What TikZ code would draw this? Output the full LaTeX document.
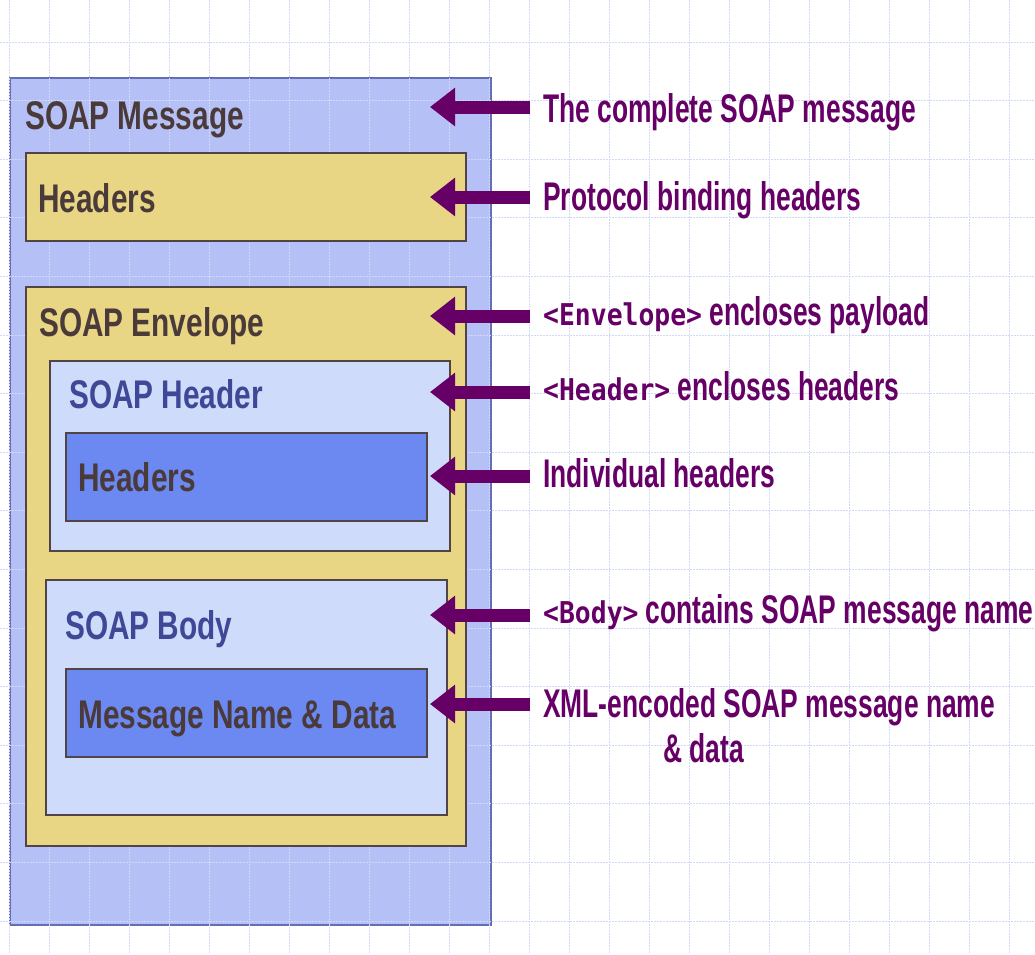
\documentclass[tikz,border=0pt]{standalone}
\usepackage{fontspec}
\setmainfont{Liberation Sans}
\newfontfamily\boxfont{Liberation Sans}[FakeStretch=0.745]
\newfontfamily\notefont{Liberation Sans}[FakeStretch=0.66]
\newfontfamily\tagfont{DejaVu Sans Mono}[FakeStretch=0.88]
\usetikzlibrary{arrows.meta}
\definecolor{msgblue}{RGB}{181,193,246}
\definecolor{msgline}{RGB}{100,110,180}
\definecolor{envyellow}{RGB}{233,214,133}
\definecolor{paleblue}{RGB}{207,219,250}
\definecolor{midblue}{RGB}{108,137,242}
\definecolor{boxline}{RGB}{80,68,68}
\definecolor{arrowpurple}{RGB}{102,0,102}
\definecolor{browntext}{RGB}{74,58,58}
\definecolor{bluetext}{RGB}{62,72,150}
\definecolor{gridblue}{RGB}{208,218,248}
\newcommand{\tg}[1]{{\tagfont\bfseries\fontsize{30}{36}\selectfont #1}}
\begin{document}
\begin{tikzpicture}[x=1pt,y=-1pt,
  box/.style={anchor=north west,inner sep=0pt,line width=1.5pt,draw=boxline},
  boxlabel/.style={anchor=base west,inner sep=0pt,text=browntext,
    font=\boxfont\bfseries\fontsize{40}{48}\selectfont},
  note/.style={anchor=base west,inner xsep=13pt,inner ysep=0pt,text=arrowpurple,
    font=\notefont\bfseries\fontsize{40}{48}\selectfont},
  bigarrow/.style={line width=13pt,arrowpurple,-{Triangle[length=25pt,width=37pt]}},
  gridline/.style={gridblue,line width=0.8pt,dash pattern=on 2pt off 1pt}]
\def\tipx{430}
\def\notex{530}
\useasboundingbox (0,0) rectangle (1035,954);
\fill[white] (0,0) rectangle (1035,954);

% outer message
\node[box,draw=msgline,fill=msgblue,minimum width=481,minimum height=847] (msg) at (9,77) {};

% grid
\foreach \gx in {0,...,25}
	\draw[gridline] ({9+40*\gx},0) -- ({9+40*\gx},954);
\foreach \gy in {0,...,15}
	\draw[gridline] (0,{42+58.6*\gy}) -- (1035,{42+58.6*\gy});

% boxes
\node[box,fill=envyellow,minimum width=440,minimum height=88] (hdrs) at (25,152) {};
\node[box,fill=envyellow,minimum width=440,minimum height=559] (env) at (25,286) {};
\node[box,fill=paleblue,minimum width=400,minimum height=190] (shdr) at (49,360) {};
\node[box,fill=midblue,minimum width=361,minimum height=88] (ihdr) at (65,432) {};
\node[box,fill=paleblue,minimum width=401,minimum height=235] (body) at (45,579) {};
\node[box,fill=midblue,minimum width=361,minimum height=88] (data) at (65,668) {};

\node[boxlabel] (msgLabel) at (25,129) {SOAP Message};
\node[boxlabel] (hdrsLabel) at (38,212) {Headers};
\node[boxlabel] (envLabel) at (39,336) {SOAP Envelope};
\node[boxlabel,text=bluetext] (shdrLabel) at (69,408) {SOAP Header};
\node[boxlabel] (ihdrLabel) at (78,491) {Headers};
\node[boxlabel,text=bluetext] (bodyLabel) at (65,639) {SOAP Body};
\node[boxlabel] (dataLabel) at (78,728) {Message Name \& Data};

% notes and arrows
\foreach \n/\ay/\by/\t in {Msg/107/122/{The complete SOAP message},
	Hdrs/197/210/{Protocol binding headers},
	Env/316/325/{\tg{<Envelope>} encloses payload},
	Shdr/392/400/{\tg{<Header>} encloses headers},
	Ihdr/476/487/{Individual headers},
	Body/615/623/{\tg{<Body>} contains SOAP message name},
	Data/704/717/{XML-encoded SOAP message name}} {
	\coordinate (tip\n) at (\tipx,\ay);
	\node[note] (note\n) at (\notex,\by) {\t};
	\draw[bigarrow] (tip\n -| note\n.west) -- (tip\n);
}
\node[note,inner xsep=0pt] (noteDataB) at (663,762) {\& data};
\end{tikzpicture}
\end{document}
